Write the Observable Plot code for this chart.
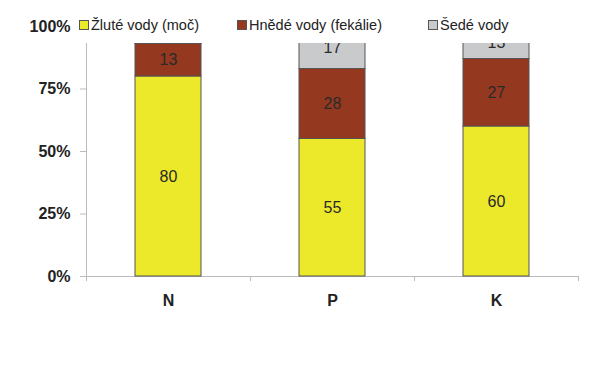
<!DOCTYPE html>
<html>
<head>
<meta charset="utf-8">
<script src="https://cdn.jsdelivr.net/npm/d3@7"></script>
<script src="https://cdn.jsdelivr.net/npm/@observablehq/plot@0.6"></script>
<style>
  body { margin: 0; background: #fff; }
  #wrap { position: relative; width: 600px; height: 381px; font-family: "Liberation Sans", Arial, sans-serif; }
  #legend { position: absolute; left: 76px; top: 0; width: 524px; height: 43px; background: #fff;
            display: flex; align-items: center; padding-top: 7px; box-sizing: border-box; font-size: 14.5px; color: #222; }
  .item { display: flex; align-items: center; }
  .item:first-child { margin-left: 3px; }
  .item:nth-child(2) { margin-left: 38px; }
  .item:nth-child(3) { margin-left: 46px; }
  .sw { width: 8px; height: 8px; border: 1px solid #555; margin-right: 2px; }
</style>
</head>
<body>
<div id="wrap"></div>
<script>
const categories = ["N", "P", "K"];
const seriesNames = ["Žluté vody (moč)", "Hnědé vody (fekálie)", "Šedé vody"];
const yellowValues = [80, 55, 60];
const brownValues = [13, 28, 27];
const greyValues = [7, 17, 13];
const colors = ["#ECE82A", "#943820", "#C9CACC"];
const yTicks = [0, 25, 50, 75, 100];

const seriesValues = [yellowValues, brownValues, greyValues];
const data = [];
seriesNames.forEach((s, si) => categories.forEach((c, ci) => data.push({cat: c, series: s, value: seriesValues[si][ci]})));

const boundaryTicks = (index, scales, values, dim) => {
  const g = document.createElementNS("http://www.w3.org/2000/svg", "g");
  const left = dim.marginLeft, right = dim.width - dim.marginRight;
  const step = (right - left) / categories.length;
  const y0 = dim.height - dim.marginBottom;
  for (let i = 0; i <= categories.length; i++) {
    const l = document.createElementNS("http://www.w3.org/2000/svg", "line");
    const x = Math.round(left + i * step) + 0.5;
    l.setAttribute("x1", x); l.setAttribute("x2", x);
    l.setAttribute("y1", y0); l.setAttribute("y2", y0 + 5);
    l.setAttribute("stroke", "#bbb");
    g.appendChild(l);
  }
  return g;
};

const chart = Plot.plot({
  width: 600,
  height: 381,
  marginTop: 26,
  marginBottom: 105,
  marginLeft: 86,
  marginRight: 22,
  style: {fontFamily: "Liberation Sans, Arial, sans-serif", color: "#222", background: "#fff"},
  x: {domain: categories, paddingInner: 0.6, paddingOuter: 0.3, label: null},
  y: {domain: [0, 100], label: null},
  color: {domain: seriesNames, range: colors},
  marks: [
    Plot.axisY({ticks: yTicks, tickFormat: d => d + "%", tickSize: 6, tickPadding: 10, stroke: "#bbb",
                fontSize: 16, fontWeight: "bold", label: null}),
    Plot.axisX({tickSize: 0, tickPadding: 18, fontSize: 16, fontWeight: "bold", label: null}),
    Plot.frame({anchor: "left", stroke: "#bbb"}),
    Plot.ruleY([0], {stroke: "#bbb"}),
    boundaryTicks,
    Plot.barY(data, Plot.stackY({x: "cat", y: "value", z: "series", fill: "series", stroke: "#555", strokeWidth: 1})),
    Plot.text(data, Plot.stackY({x: "cat", y: "value", z: "series", text: "value", fontSize: 16, fill: "#2a2a2a"}))
  ]
});

const wrap = document.getElementById("wrap");
wrap.appendChild(chart);
const legend = document.createElement("div");
legend.id = "legend";
seriesNames.forEach((s, i) => {
  const it = document.createElement("div");
  it.className = "item";
  const sw = document.createElement("span");
  sw.className = "sw";
  sw.style.background = colors[i];
  const t = document.createElement("span");
  t.textContent = s;
  it.appendChild(sw); it.appendChild(t);
  legend.appendChild(it);
});
wrap.appendChild(legend);
</script>
</body>
</html>
